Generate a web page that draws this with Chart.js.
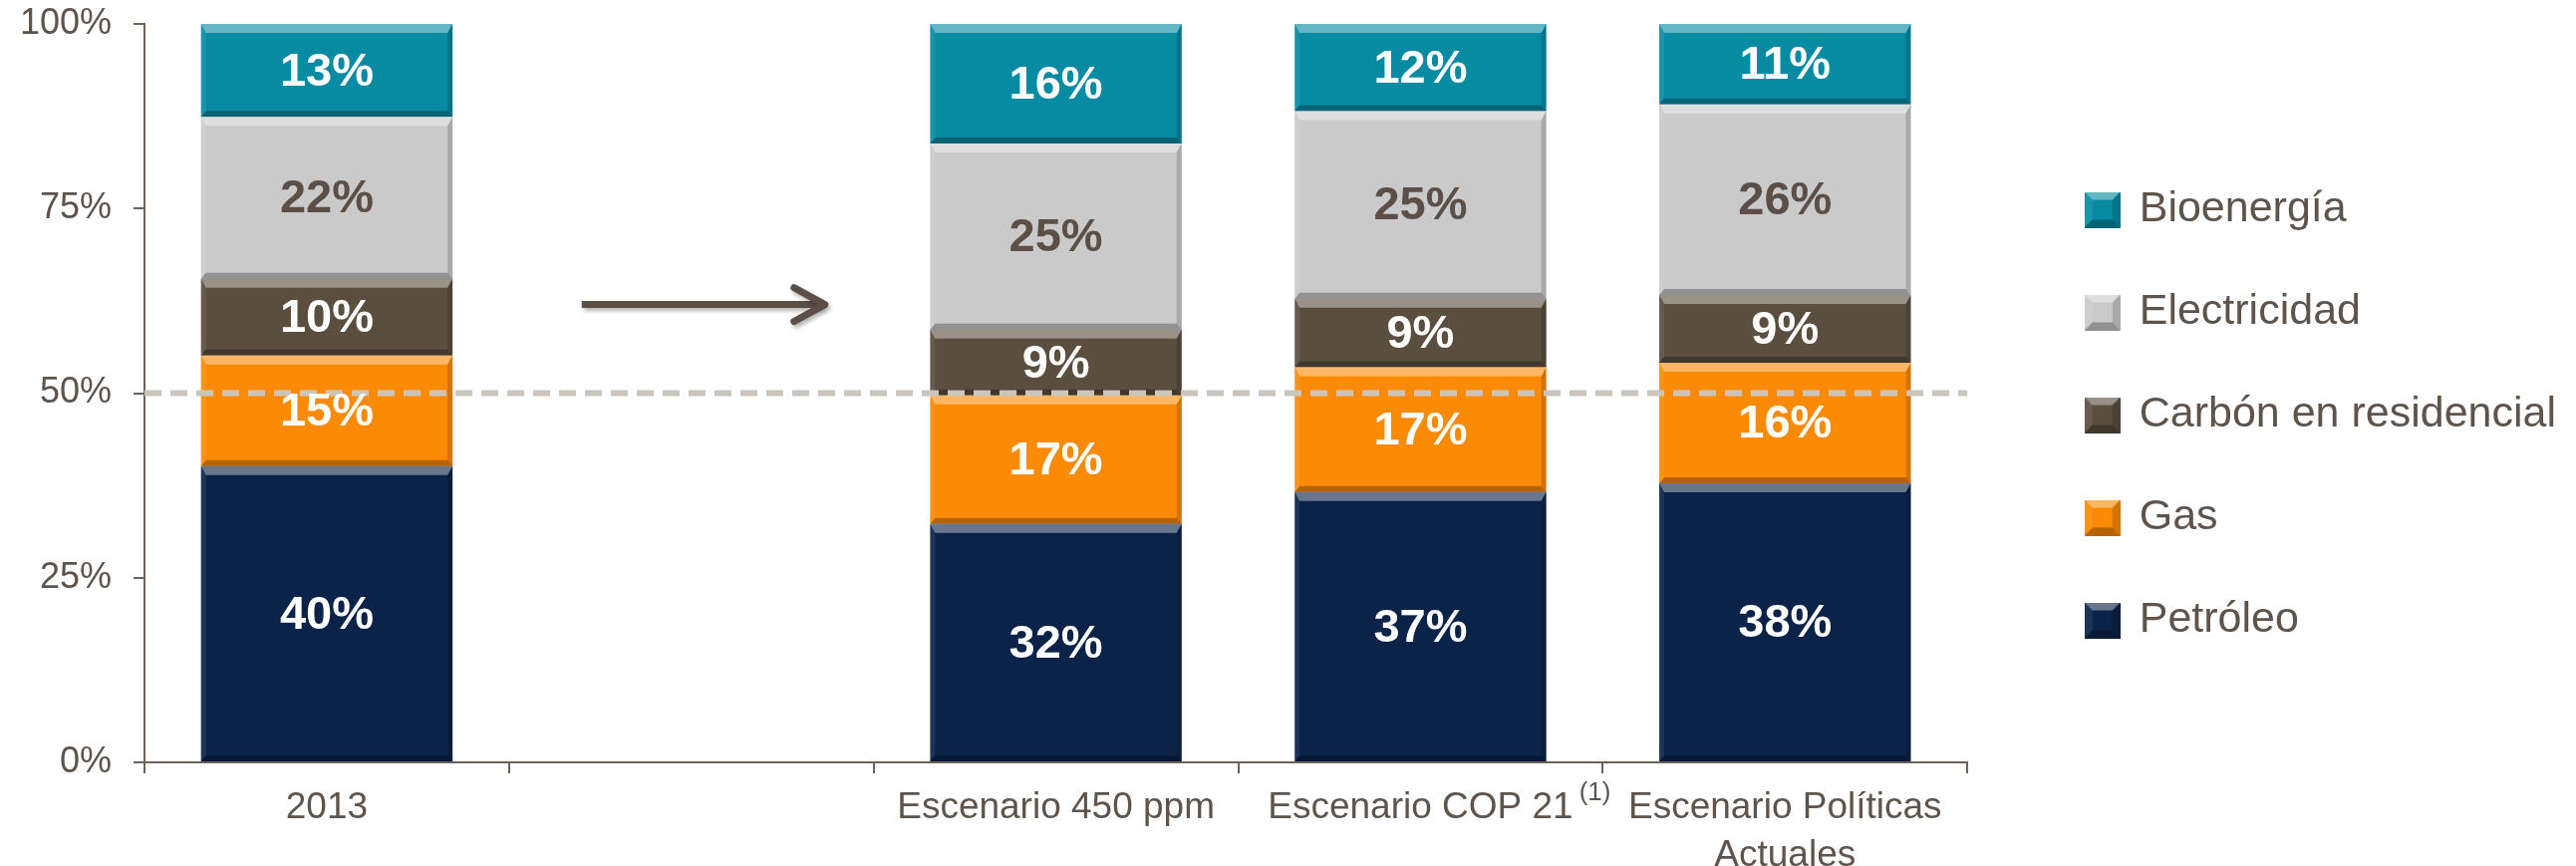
<!DOCTYPE html>
<html>
<head>
<meta charset="utf-8">
<script src="https://cdn.jsdelivr.net/npm/chart.js@4.4.1/dist/chart.umd.min.js"></script>
<style>
    html, body { margin: 0; padding: 0; background: #ffffff; }
</style>
</head>
<body>
<canvas id="grafica" width="2585" height="869"></canvas>
<script>
// Datos (% del consumo final)
const categorias = ['2013', '', 'Escenario 450 ppm', 'Escenario COP 21', ['Escenario Políticas', 'Actuales']];
const notas = ['', '', '', '(1)', ''];
const petroleo = [40.1, null, 32.3, 36.6, 37.8];
const gas = [15.0, null, 17.4, 16.9, 16.3];
const carbon = [10.4, null, 8.9, 9.3, 9.2];
const electricidad = [21.9, null, 25.2, 25.4, 25.8];
const bioenergia = [12.6, null, 16.2, 11.8, 10.9];
const ticksY = [0, 25, 50, 75, 100];

const colorTexto = '#5f544b';
const colorEje = '#6d625a';
const fuente = "'Liberation Sans', Arial, sans-serif";

Chart.defaults.font.family = fuente;
Chart.defaults.color = colorTexto;

const series = [
    { nombre: 'Petróleo', datos: petroleo, color: '#0b2348', texto: '#ffffff' },
    { nombre: 'Gas', datos: gas, color: '#fb8a06', texto: '#ffffff' },
    { nombre: 'Carbón en residencial', datos: carbon, color: '#5a4e3f', texto: '#ffffff' },
    { nombre: 'Electricidad', datos: electricidad, color: '#cacaca', texto: '#5b4f48' },
    { nombre: 'Bioenergía', datos: bioenergia, color: '#078ba3', texto: '#ffffff' }
];

function caminoPoligono(ctx, puntos, color) {
    ctx.beginPath();
    ctx.moveTo(puntos[0][0], puntos[0][1]);
    for (let i = 1; i < puntos.length; i++) {
        ctx.lineTo(puntos[i][0], puntos[i][1]);
    }
    ctx.closePath();
    ctx.fillStyle = color;
    ctx.fill();
}

// efecto de bisel como en el original
function dibujarBisel(ctx, izq, arriba, der, abajo, bt, bb, s) {
    const x1 = izq + s, x2 = der - s, y1 = arriba + bt, y2 = abajo - bb;
    caminoPoligono(ctx, [[izq, arriba], [der, arriba], [x2, y1], [x1, y1]], 'rgba(255,255,255,0.38)');
    caminoPoligono(ctx, [[izq, abajo], [der, abajo], [x2, y2], [x1, y2]], 'rgba(0,0,0,0.28)');
    caminoPoligono(ctx, [[izq, arriba], [x1, y1], [x1, y2], [izq, abajo]], 'rgba(255,255,255,0.08)');
    caminoPoligono(ctx, [[der, arriba], [x2, y1], [x2, y2], [der, abajo]], 'rgba(0,0,0,0.16)');
}

function cuadroBiselado(color) {
    let c = document.createElement('canvas');
    c.width = 36;
    c.height = 36;
    let ctx = c.getContext('2d');
    ctx.fillStyle = color;
    ctx.fillRect(0, 0, 36, 36);
    dibujarBisel(ctx, 0, 0, 36, 36, 8, 8, 8);
    return c;
}

const pluginBarras = {
    id: 'barras',
    afterDatasetsDraw: function (chart) {
        const ctx = chart.ctx;
        const area = chart.chartArea;
        ctx.save();

        // bisel de cada segmento
        chart.data.datasets.forEach(function (ds, i) {
            chart.getDatasetMeta(i).data.forEach(function (barra, j) {
                if (ds.data[j] === null) return;
                const p = barra.getProps(['x', 'y', 'base', 'width'], true);
                const arriba = Math.min(p.y, p.base);
                const abajo = Math.max(p.y, p.base);
                dibujarBisel(ctx, p.x - p.width / 2, arriba, p.x + p.width / 2, abajo, 9, 6, 5);
            });
        });

        // línea discontinua del 50%
        const y50 = chart.scales.y.getPixelForValue(50);
        ctx.beginPath();
        ctx.setLineDash([17, 9]);
        ctx.lineWidth = 6;
        ctx.strokeStyle = '#cbc5bd';
        ctx.moveTo(area.left, y50);
        ctx.lineTo(area.right, y50);
        ctx.stroke();
        ctx.setLineDash([]);

        // etiquetas de valor
        ctx.font = 'bold 47px ' + fuente;
        ctx.textAlign = 'center';
        ctx.textBaseline = 'middle';
        chart.data.datasets.forEach(function (ds, i) {
            chart.getDatasetMeta(i).data.forEach(function (barra, j) {
                const valor = ds.data[j];
                if (valor === null) return;
                const p = barra.getProps(['x', 'y', 'base'], true);
                ctx.fillStyle = series[i].texto;
                ctx.fillText(Math.round(valor) + '%', p.x, (p.y + p.base) / 2 + 2);
            });
        });
        ctx.restore();
    },
    afterDraw: function (chart) {
        const ctx = chart.ctx;
        const xs = chart.scales.x;

        // notas en superíndice de las categorías
        ctx.save();
        notas.forEach(function (nota, i) {
            if (!nota) return;
            ctx.font = '37px ' + fuente;
            const ancho = ctx.measureText(categorias[i]).width;
            const x = xs.getPixelForValue(i) + ancho / 2 + 6;
            ctx.font = '26px ' + fuente;
            ctx.fillStyle = colorTexto;
            ctx.textAlign = 'left';
            ctx.textBaseline = 'middle';
            ctx.fillText(nota, x, xs.top + 31);
        });
        ctx.restore();

        // flecha entre 2013 y los escenarios
        const centro = xs.getPixelForValue(1) + 12;
        const y = chart.scales.y.getPixelForValue(62);
        const mitad = 122;
        ctx.save();
        ctx.strokeStyle = '#5b4f47';
        ctx.lineWidth = 7;
        ctx.shadowColor = 'rgba(0,0,0,0.3)';
        ctx.shadowOffsetX = 2;
        ctx.shadowOffsetY = 3;
        ctx.shadowBlur = 4;
        ctx.beginPath();
        ctx.moveTo(centro - mitad, y);
        ctx.lineTo(centro + mitad - 3, y);
        ctx.stroke();
        ctx.lineCap = 'round';
        ctx.lineJoin = 'round';
        ctx.beginPath();
        ctx.moveTo(centro + mitad - 31, y - 17);
        ctx.lineTo(centro + mitad, y);
        ctx.lineTo(centro + mitad - 31, y + 17);
        ctx.stroke();
        ctx.restore();
    }
};

const pluginLeyenda = {
    id: 'moverLeyenda',
    afterLayout: function (chart) {
        const ley = chart.legend;
        ley.left += 60;
        ley.right += 60;
        ley.top -= 30;
        ley.bottom -= 30;
    }
};

new Chart(document.getElementById('grafica').getContext('2d'), {
    type: 'bar',
    data: {
        labels: categorias,
        datasets: series.map(function (s) {
            return {
                label: s.nombre,
                data: s.datos,
                backgroundColor: s.color,
                borderWidth: 0,
                categoryPercentage: 1,
                barPercentage: 0.69
            }
        })
    },
    options: {
        responsive: false,
        animation: false,
        layout: {
            padding: { left: 0, top: 24, right: 70, bottom: 0 }
        },
        plugins: {
            tooltip: { enabled: false },
            legend: {
                position: 'right',
                reverse: true,
                labels: {
                    usePointStyle: true,
                    boxWidth: 31,
                    boxHeight: 36,
                    padding: 60,
                    color: colorTexto,
                    font: { size: 43 },
                    generateLabels: function (chart) {
                        let items = Chart.defaults.plugins.legend.labels.generateLabels(chart);
                        items.forEach(function (item) {
                            item.pointStyle = cuadroBiselado(series[item.datasetIndex].color);
                        });
                        return items;
                    }
                }
            }
        },
        scales: {
            x: {
                stacked: true,
                ticks: {
                    color: colorTexto,
                    font: { size: 37, lineHeight: 1.3 },
                    padding: 11,
                    maxRotation: 0,
                    autoSkip: false
                },
                grid: {
                    display: true,
                    offset: true,
                    drawOnChartArea: false,
                    tickLength: 11,
                    color: colorEje,
                    lineWidth: 2
                },
                border: { color: colorEje, width: 2 },
                afterFit: function (scale) {
                    scale.height = 104;
                }
            },
            y: {
                stacked: true,
                min: 0,
                max: 100,
                afterBuildTicks: function (scale) {
                    scale.ticks = ticksY.map(function (v) { return { value: v }; });
                },
                ticks: {
                    color: colorTexto,
                    font: { size: 36 },
                    padding: 22,
                    callback: function (v) { return v + '%'; }
                },
                grid: {
                    display: true,
                    drawOnChartArea: false,
                    tickLength: 11,
                    color: colorEje,
                    lineWidth: 2
                },
                border: { color: colorEje, width: 2 },
                afterFit: function (scale) {
                    scale.width = 145;
                    scale.paddingTop = 0;
                    scale.paddingBottom = 0;
                }
            }
        }
    },
    plugins: [pluginBarras, pluginLeyenda]
});
</script>
</body>
</html>
